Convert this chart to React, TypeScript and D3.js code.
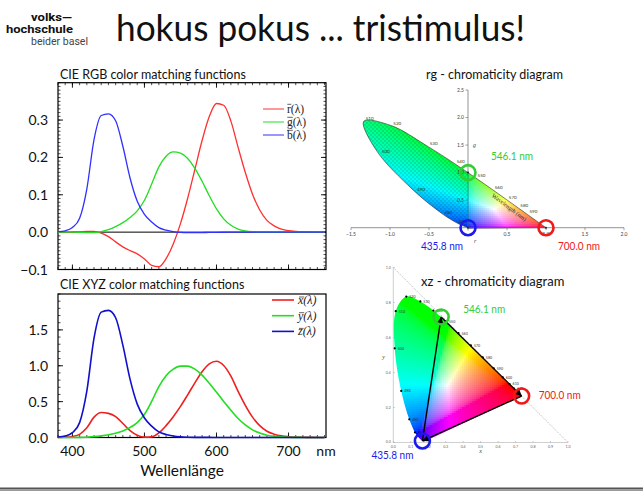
import React, { useMemo } from "react";
import * as d3 from "d3";

// ---------- DATA ----------
const wavelengths = [380, 390, 400, 410, 420, 430, 440, 450, 460, 470, 480, 490, 500, 510, 520, 530, 540, 550, 560, 570, 580, 590, 600, 610, 620, 630, 640, 650, 660, 670, 680, 690, 700, 710, 720, 730, 740, 750];
// CIE RGB colour matching functions
const rBar = [0.00003, 0.0001, 0.0003, 0.00084, 0.00211, 0.00218, -0.00261, -0.01213, -0.02608, -0.03933, -0.04939, -0.05814, -0.07173, -0.08901, -0.09264, -0.07101, -0.03152, 0.02279, 0.0906, 0.16768, 0.24526, 0.30928, 0.34429, 0.33971, 0.29708, 0.22677, 0.15968, 0.10167, 0.05932, 0.03149, 0.01687, 0.00819, 0.0041, 0.0021, 0.00105, 0.00052, 0.00025, 0.00012];
const gBar = [-0.00001, -0.00004, -0.00014, -0.00041, -0.0011, -0.00119, 0.00149, 0.00678, 0.01485, 0.02538, 0.03914, 0.05689, 0.08536, 0.1286, 0.17468, 0.20317, 0.21466, 0.21178, 0.19702, 0.17087, 0.1361, 0.09754, 0.06246, 0.03557, 0.01828, 0.00833, 0.00334, 0.00116, 0.00037, 0.00011, 0.00003, 0, 0, 0, 0, 0, 0, 0];
const bBar = [0.00117, 0.00359, 0.01214, 0.03707, 0.11541, 0.24769, 0.31228, 0.3167, 0.29821, 0.22991, 0.14494, 0.08257, 0.04776, 0.02698, 0.01221, 0.00549, 0.00146, -0.00058, -0.0013, -0.00135, -0.00108, -0.00079, -0.00049, -0.0003, -0.00015, -0.00008, -0.00003, -0.00001, 0, 0, 0, 0, 0, 0, 0, 0, 0, 0];
// CIE XYZ colour matching functions
const xBar = [0.001368, 0.004243, 0.01431, 0.04351, 0.13438, 0.2839, 0.34828, 0.3362, 0.2908, 0.19536, 0.09564, 0.03201, 0.0049, 0.0093, 0.06327, 0.1655, 0.2904, 0.43345, 0.5945, 0.7621, 0.9163, 1.0263, 1.0622, 1.0026, 0.85445, 0.6424, 0.4479, 0.2835, 0.1649, 0.0874, 0.04677, 0.0227, 0.011359, 0.00579, 0.002899, 0.00144, 0.00069, 0.000332];
const yBar = [0.000039, 0.00012, 0.000396, 0.00121, 0.004, 0.0116, 0.023, 0.038, 0.06, 0.09098, 0.13902, 0.20802, 0.323, 0.503, 0.71, 0.862, 0.954, 0.99495, 0.995, 0.952, 0.87, 0.757, 0.631, 0.503, 0.381, 0.265, 0.175, 0.107, 0.061, 0.032, 0.017, 0.00821, 0.004102, 0.002091, 0.001047, 0.00052, 0.000249, 0.00012];
const zBar = [0.00645, 0.02005, 0.06785, 0.2074, 0.6456, 1.3856, 1.74706, 1.77211, 1.6692, 1.28764, 0.81295, 0.46518, 0.272, 0.1582, 0.07825, 0.04216, 0.0203, 0.00875, 0.0039, 0.0021, 0.00165, 0.0011, 0.0008, 0.00034, 0.00019, 0.00005, 0.00002, 0, 0, 0, 0, 0, 0, 0, 0, 0, 0, 0];

const rgbTicksY = [-0.1, 0.0, 0.1, 0.2, 0.3];
const xyzTicksY = [0.0, 0.5, 1.0, 1.5];
const waveTicks = [400, 500, 600, 700];
const rgbLegend = ["r", "g", "b"];
const xyzLegend = ["x", "y", "z"];

const primaryLabels = ["435.8 nm", "546.1 nm", "700.0 nm"];
const primaryRG = [[0, 0], [0, 1], [1, 0]];
const primaryXY = [[0.1666, 0.0089], [0.2738, 0.7174], [0.7347, 0.2653]];

const rgTicksR = [-1.5, -1.0, -0.5, 0.5, 1.0, 1.5, 2.0];
const rgTicksG = [0.5, 1.0, 1.5, 2.0, 2.5];
const xyTicksX = [0.0, 0.1, 0.2, 0.3, 0.4, 0.5, 0.6, 0.7, 0.8, 0.9, 1.0];
const xyTicksY = [0.0, 0.2, 0.4, 0.6, 0.8, 1.0];
const rgLabelWl = [470, 480, 490, 500, 510, 520, 530, 540, 550, 560, 570, 580, 590];
const xyLabelWl = [470, 480, 490, 500, 510, 520, 530, 540, 550, 560, 570, 580, 590, 600, 610, 620];

// ---------- STYLE ----------
const SANS = "Lato, 'Open Sans', sans-serif";
const SERIF = "'Liberation Serif', 'DejaVu Serif', serif";
const topColors = ["#ff3030", "#22dd22", "#3030ff"];
const botColors = ["#ee2020", "#22dd22", "#1010cc"];
const primColors = ["#1a1aee", "#33cc33", "#ee1a1a"];
const topBarW = [4, 5.5, 5.5];
const botBarW = [5.2, 5.2, 4.6];

const gammaEnc = (v: number) => (v <= 0.0031308 ? 12.92 * v : 1.055 * Math.pow(v, 1 / 2.4) - 0.055);
const toRGB = (R: number, G: number, B: number) => {
  R = Math.max(R, 0); G = Math.max(G, 0); B = Math.max(B, 0);
  const m = Math.max(R, G, B) || 1;
  return d3.rgb(255 * gammaEnc(R / m), 255 * gammaEnc(G / m), 255 * gammaEnc(B / m)).formatHex();
};
const rgColor = (r: number, g: number) => toRGB(r, g, 1 - r - g);
const xyColor = (x: number, y: number) => {
  const X = x / y, Y = 1, Z = (1 - x - y) / y;
  return toRGB(3.2406 * X - 1.5372 * Y - 0.4986 * Z, -0.9689 * X + 1.8758 * Y + 0.0415 * Z, 0.0557 * X - 0.204 * Y + 1.057 * Z);
};

export default function App() {
  // left charts
  const xW = d3.scaleLinear().domain([380, 752]).range([58, 326]);
  const yT = d3.scaleLinear().domain([-0.1, 0.4]).range([269.5, 82.7]);
  const yB = d3.scaleLinear().domain([0, 2]).range([437.5, 294]);
  const lineT = d3.line<number>().x((_, i) => xW(wavelengths[i])).y((v) => yT(v)).curve(d3.curveMonotoneX);
  const lineB = d3.line<number>().x((_, i) => xW(wavelengths[i])).y((v) => yB(v)).curve(d3.curveMonotoneX);
  const topSeries = [rBar, gBar, bBar];
  const botSeries = [xBar, yBar, zBar];
  const minorW = d3.range(380, 751, 10);
  const minorT = d3.range(-0.1, 0.4001, 0.01);
  const minorB = d3.range(0, 2.001, 0.1);

  // rg diagram
  const rgX = d3.scaleLinear().domain([-1.5, 2.0]).range([351, 624]);
  const rgY = d3.scaleLinear().domain([0, 2.5]).range([227.7, 90]);
  const rgPts = wavelengths.map((w, i) => {
    const s = rBar[i] + gBar[i] + bBar[i];
    return { w, r: rBar[i] / s, g: gBar[i] / s };
  });
  const rgLocus = rgPts.filter((p) => p.w <= 700);
  const rgPath = d3.line<any>().x((p) => rgX(p.r)).y((p) => rgY(p.g)).curve(d3.curveCatmullRom.alpha(0.5))(rgLocus) + "Z";

  // xy diagram
  const xyX = d3.scaleLinear().domain([0, 1]).range([393.3, 568]);
  const xyY = d3.scaleLinear().domain([0, 1]).range([442.5, 267.5]);
  const xyPts = wavelengths.map((w, i) => {
    const s = xBar[i] + yBar[i] + zBar[i];
    return { w, x: xBar[i] / s, y: yBar[i] / s };
  });
  const xyLocus = xyPts.filter((p) => p.w <= 700);
  const xyPath = d3.line<any>().x((p) => xyX(p.x)).y((p) => xyY(p.y)).curve(d3.curveCatmullRom.alpha(0.5))(xyLocus) + "Z";

  const cells = useMemo(() => {
    const st = 2;
    const rgC: any[] = [];
    const rx0 = Math.floor(rgX(d3.min(rgLocus, (p) => p.r)!)) - 2, rx1 = Math.ceil(rgX(d3.max(rgLocus, (p) => p.r)!)) + 2;
    const ry0 = Math.floor(rgY(d3.max(rgLocus, (p) => p.g)!)) - 3, ry1 = Math.ceil(rgY(d3.min(rgLocus, (p) => p.g)!)) + 2;
    for (let px = rx0; px < rx1; px += st)
      for (let py = ry0; py < ry1; py += st) rgC.push({ px, py, c: rgColor(rgX.invert(px + 1), rgY.invert(py + 1)) });
    const xyC: any[] = [];
    const xx0 = Math.floor(xyX(d3.min(xyLocus, (p) => p.x)!)) - 2, xx1 = Math.ceil(xyX(d3.max(xyLocus, (p) => p.x)!)) + 2;
    const xy0 = Math.floor(xyY(d3.max(xyLocus, (p) => p.y)!)) - 3, xy1 = Math.ceil(xyY(0)) + 1;
    for (let px = xx0; px < xx1; px += st)
      for (let py = xy0; py < xy1; py += st) xyC.push({ px, py, c: xyColor(xyX.invert(px + 1), Math.max(xyY.invert(py + 1), 0.002)) });
    return { rgC, xyC };
  }, []);

  const fmt1 = d3.format(".1f");

  const pXY = primaryXY.map((p) => [xyX(p[0]), xyY(p[1])]);
  const pRG = primaryRG.map((p) => [rgX(p[0]), rgY(p[1])]);
  const rgLabelOff = [[-47, 22], [23, -13], [12, 22]];
  const xyLabelOff = [[-51, 18.5], [22, -3.5], [17, 2.5]];

  return (
    <svg width={643} height={491} style={{ position: "absolute", left: 0, top: 0, background: "#fff" }} fontFamily={SANS}>
      <defs>
        <clipPath id="rgClip"><path d={rgPath} /></clipPath>
        <clipPath id="xyClip"><path d={xyPath} /></clipPath>
        <pattern id="chk" width={4} height={4} patternUnits="userSpaceOnUse">
          <rect width={2} height={2} fill="#000" opacity={0.1} />
          <rect x={2} y={2} width={2} height={2} fill="#000" opacity={0.1} />
        </pattern>
        <marker id="arr" viewBox="0 0 10 10" refX={10} refY={5} markerWidth={5} markerHeight={5} orient="auto">
          <path d="M0,0L10,5L0,10Z" fill="#000" />
        </marker>
      </defs>

      {/* header */}
      <text x={31} y={21} fontFamily="Roboto, sans-serif" fontWeight={700} fontSize={11} fill="#111" textLength={41} lengthAdjust="spacingAndGlyphs">volks—</text>
      <text x={6} y={33} fontFamily="Roboto, sans-serif" fontWeight={700} fontSize={11} fill="#111" textLength={67} lengthAdjust="spacingAndGlyphs">hochschule</text>
      <text x={31} y={45} fontFamily="Roboto, sans-serif" fontWeight={400} fontSize={11} fill="#444" textLength={57} lengthAdjust="spacingAndGlyphs">beider basel</text>
      <text x={116} y={41} fontSize={36} fontWeight={400} fill="#111" textLength={409} lengthAdjust="spacingAndGlyphs">hokus pokus ... tristimulus!</text>

      {/* ---------- top-left: CIE RGB ---------- */}
      <text x={60} y={79} fontSize={12.5} fill="#111">CIE RGB color matching functions</text>
      <rect x={58} y={82.7} width={268} height={186.8} fill="none" stroke="#000" strokeWidth={1.2} />
      <line x1={58} x2={326} y1={yT(0)} y2={yT(0)} stroke="#000" strokeWidth={1} />
      {minorT.map((v, i) => (
        <g key={"mt" + i}>
          <line x1={58} x2={60.5} y1={yT(v)} y2={yT(v)} stroke="#000" strokeWidth={0.7} />
          <line x1={326} x2={323.5} y1={yT(v)} y2={yT(v)} stroke="#000" strokeWidth={0.7} />
        </g>
      ))}
      {rgbTicksY.map((v) => (
        <g key={"yt" + v}>
          <line x1={58} x2={63} y1={yT(v)} y2={yT(v)} stroke="#000" strokeWidth={0.9} />
          <line x1={326} x2={321} y1={yT(v)} y2={yT(v)} stroke="#000" strokeWidth={0.9} />
          <text x={48} y={yT(v) + 5} fontSize={14} textAnchor="end" fill="#111">{fmt1(v)}</text>
        </g>
      ))}
      {minorW.map((w) => (
        <g key={"mw" + w}>
          <line x1={xW(w)} x2={xW(w)} y1={82.7} y2={85.2} stroke="#000" strokeWidth={0.7} />
          <line x1={xW(w)} x2={xW(w)} y1={269.5} y2={267} stroke="#000" strokeWidth={0.7} />
        </g>
      ))}
      {waveTicks.map((w) => (
        <g key={"wt" + w}>
          <line x1={xW(w)} x2={xW(w)} y1={82.7} y2={87.7} stroke="#000" strokeWidth={0.9} />
          <line x1={xW(w)} x2={xW(w)} y1={269.5} y2={264.5} stroke="#000" strokeWidth={0.9} />
        </g>
      ))}
      {topSeries.map((s, i) => (
        <path key={"ts" + i} d={lineT(s)!} fill="none" stroke={topColors[i]} strokeWidth={1.3} />
      ))}
      {rgbLegend.map((l, i) => (
        <g key={"tl" + l}>
          <line x1={263} x2={284} y1={109 + i * 13} y2={109 + i * 13} stroke={topColors[i]} strokeWidth={1} />
          <line x1={287.3} x2={287.3 + topBarW[i]} y1={104.3 + i * 13} y2={104.3 + i * 13} stroke="#222" strokeWidth={0.7} />
          <text x={287} y={113 + i * 13} fontSize={11.5} fontFamily={SERIF} fill="#222">{l + "(λ)"}</text>
        </g>
      ))}

      {/* ---------- bottom-left: CIE XYZ ---------- */}
      <text x={60} y={289} fontSize={12.5} fill="#111">CIE XYZ color matching functions</text>
      <rect x={58} y={294} width={268} height={143.5} fill="none" stroke="#000" strokeWidth={1.2} />
      {minorB.map((v, i) => (
        <line key={"mb" + i} x1={58} x2={60.5} y1={yB(v)} y2={yB(v)} stroke="#000" strokeWidth={0.7} />
      ))}
      {xyzTicksY.map((v) => (
        <g key={"yb" + v}>
          <line x1={58} x2={63} y1={yB(v)} y2={yB(v)} stroke="#000" strokeWidth={0.9} />
          <text x={48} y={yB(v) + 5} fontSize={14} textAnchor="end" fill="#111">{fmt1(v)}</text>
        </g>
      ))}
      {minorW.map((w) => (
        <line key={"mwb" + w} x1={xW(w)} x2={xW(w)} y1={437.5} y2={435} stroke="#000" strokeWidth={0.7} />
      ))}
      {waveTicks.map((w) => (
        <g key={"wb" + w}>
          <line x1={xW(w)} x2={xW(w)} y1={437.5} y2={432.5} stroke="#000" strokeWidth={0.9} />
          <text x={xW(w)} y={456} fontSize={14} textAnchor="middle" fill="#111">{w}</text>
        </g>
      ))}
      <text x={326} y={456} fontSize={14} textAnchor="middle" fill="#111">nm</text>
      <text x={182} y={476} fontSize={15.5} textAnchor="middle" fill="#111">Wellenlänge</text>
      {botSeries.map((s, i) => (
        <path key={"bs" + i} d={lineB(s)!} fill="none" stroke={botColors[i]} strokeWidth={1.6} />
      ))}
      {xyzLegend.map((l, i) => (
        <g key={"bl" + l}>
          <line x1={272} x2={294} y1={300 + i * 15.7} y2={300 + i * 15.7} stroke={botColors[i]} strokeWidth={1.6} />
          <line x1={299} x2={299 + botBarW[i]} y1={297 + i * 15.7} y2={297 + i * 15.7} stroke="#222" strokeWidth={0.7} />
          <text x={298} y={304 + i * 15.7} fontSize={12} fontStyle="italic" fontFamily={SERIF} fill="#222">{l + "(λ)"}</text>
        </g>
      ))}

      {/* ---------- rg chromaticity ---------- */}
      <text x={494.5} y={79} fontSize={12.5} textAnchor="middle" fill="#111">rg - chromaticity diagram</text>
      <g clipPath="url(#rgClip)">
        {cells.rgC.map((c, i) => (
          <rect key={"rc" + i} x={c.px} y={c.py} width={2.05} height={2.05} fill={c.c} shapeRendering="crispEdges" />
        ))}
        <rect x={rgX(-1.5)} y={rgY(2.5)} width={rgX(0) - rgX(-1.5)} height={rgY(-0.2) - rgY(2.5)} fill="url(#chk)" />
      </g>
      <path d={rgPath} fill="none" stroke="#333" strokeWidth={0.6} />
      <line x1={rgX(-1.5)} x2={rgX(2.0)} y1={rgY(0)} y2={rgY(0)} stroke="#666" strokeWidth={0.7} />
      <line x1={rgX(0)} x2={rgX(0)} y1={rgY(2.5)} y2={rgY(-0.05)} stroke="#666" strokeWidth={0.7} />
      {rgTicksR.map((v) => (
        <g key={"rr" + v}>
          <line x1={rgX(v)} x2={rgX(v)} y1={rgY(0)} y2={rgY(0) + 2.5} stroke="#666" strokeWidth={0.6} />
          <text x={rgX(v)} y={rgY(0) + 8} fontSize={5} textAnchor="middle" fill="#444">{fmt1(v)}</text>
        </g>
      ))}
      {rgTicksG.map((v) => (
        <g key={"rg" + v}>
          <line x1={rgX(0)} x2={rgX(0) - 2.5} y1={rgY(v)} y2={rgY(v)} stroke="#666" strokeWidth={0.6} />
          <text x={rgX(0) - 4} y={rgY(v) + 1.7} fontSize={5} textAnchor="end" fill="#444">{fmt1(v)}</text>
        </g>
      ))}
      <text x={rgX(0) + 5} y={rgY(1.5) + 2} fontSize={6} fontStyle="italic" fontFamily={SERIF} fill="#444">g</text>
      <text x={rgX(0) + 6} y={rgY(0) + 15} fontSize={6} fontStyle="italic" fontFamily={SERIF} fill="#444">r</text>
      {rgPts.filter((p) => rgLabelWl.includes(p.w)).map((p) => (
        <text key={"rl" + p.w} x={rgX(p.r) + (p.w < 510 ? 5 : 2)} y={rgY(p.g) + (p.w < 510 ? 2 : -1)} fontSize={4.5} fill="#2a3a1a">{p.w}</text>
      ))}
      <text transform={`translate(508,209) rotate(37)`} fontSize={6} fontFamily={SERIF} textAnchor="middle" fill="#333">Wavelength (nm)</text>
      {pRG.map((p, i) => (
        <g key={"prg" + i}>
          <circle cx={p[0]} cy={p[1]} r={7.5} fill="none" stroke={primColors[i]} strokeWidth={2.6} />
          <circle cx={p[0]} cy={p[1]} r={1} fill="#222" />
          <text x={p[0] + rgLabelOff[i][0]} y={p[1] + rgLabelOff[i][1]} fontSize={12} fill={primColors[i]} textLength={42} lengthAdjust="spacingAndGlyphs">{primaryLabels[i]}</text>
        </g>
      ))}

      {/* ---------- xy chromaticity ---------- */}
      <line x1={xyX(0)} x2={xyX(1)} y1={xyY(1)} y2={xyY(0)} stroke="#999" strokeWidth={0.7} strokeDasharray="1.2,1.2" />
      <line x1={xyX(0)} x2={xyX(0)} y1={xyY(0)} y2={xyY(1)} stroke="#bbb" strokeWidth={0.7} />
      <line x1={xyX(0)} x2={xyX(1)} y1={xyY(0)} y2={xyY(0)} stroke="#bbb" strokeWidth={0.7} />
      {xyTicksX.map((v) => (
        <g key={"xx" + v}>
          <line x1={xyX(v)} x2={xyX(v)} y1={xyY(0)} y2={xyY(0) - 1.5} stroke="#999" strokeWidth={0.5} />
          <text x={xyX(v)} y={xyY(0) + 5} fontSize={3.6} textAnchor="middle" fill="#666">{fmt1(v)}</text>
        </g>
      ))}
      {xyTicksY.map((v) => (
        <g key={"xy" + v}>
          <line x1={xyX(0)} x2={xyX(0) + 1.5} y1={xyY(v)} y2={xyY(v)} stroke="#999" strokeWidth={0.5} />
          <text x={xyX(0) - 2.5} y={xyY(v) + (v === 0 ? 0 : 1.2)} fontSize={3.6} textAnchor="end" fill="#666">{fmt1(v)}</text>
        </g>
      ))}
      <text x={xyX(0.5)} y={xyY(0) + 10} fontSize={6} fontStyle="italic" fontFamily={SERIF} textAnchor="middle" fill="#444">x</text>
      <text x={xyX(0) - 11} y={xyY(0.48)} fontSize={6} fontStyle="italic" fontFamily={SERIF} fill="#444">y</text>
      <g clipPath="url(#xyClip)">
        {cells.xyC.map((c, i) => (
          <rect key={"xc" + i} x={c.px} y={c.py} width={2.05} height={2.05} fill={c.c} shapeRendering="crispEdges" />
        ))}
      </g>
      <text x={492.7} y={286} fontSize={13} textAnchor="middle" fill="#111">xz - chromaticity diagram</text>
      {xyPts.filter((p) => xyLabelWl.includes(p.w)).map((p) => (
        <g key={"xl" + p.w}>
          <circle cx={xyX(p.x)} cy={xyY(p.y)} r={1.1} fill="#000" />
          <text x={xyX(p.x) + 3} y={xyY(p.y) + 1.3} fontSize={3.6} fill="#333">{p.w}</text>
        </g>
      ))}
      {[[0, 1], [1, 2], [2, 0]].map(([a, b]) => (
        <line key={"tri" + a} x1={pXY[a][0]} y1={pXY[a][1]} x2={pXY[b][0]} y2={pXY[b][1]} stroke="#000" strokeWidth={1.4} markerEnd="url(#arr)" />
      ))}
      {pXY.map((p, i) => (
        <g key={"pxy" + i}>
          <circle cx={p[0]} cy={p[1]} r={7.5} fill="none" stroke={primColors[i]} strokeWidth={2.6} />
          <text x={p[0] + xyLabelOff[i][0]} y={p[1] + xyLabelOff[i][1]} fontSize={12} fill={primColors[i]} textLength={42} lengthAdjust="spacingAndGlyphs">{primaryLabels[i]}</text>
        </g>
      ))}

      {/* footer rule */}
      <rect x={0} y={487.5} width={643} height={2} fill="#555" />
      <rect x={0} y={489.5} width={643} height={1.5} fill="#999" />
    </svg>
  );
}
